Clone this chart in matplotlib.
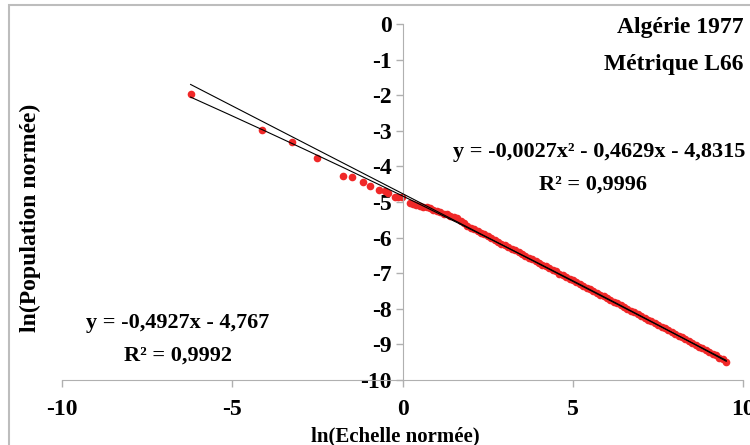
import numpy as np
import matplotlib.pyplot as plt
from matplotlib.patches import Rectangle

plt.rcParams['font.family'] = ['Liberation Serif', 'DejaVu Serif']
plt.rcParams['font.weight'] = 'bold'
plt.rcParams['axes.unicode_minus'] = False

# points
x_left = [-6.23, -4.12, -3.24, -2.51, -1.76, -1.50, -1.18, -0.96, -0.70,
          -0.53, -0.43, -0.23, -0.14, -0.03]
y_left = [-1.96, -2.97, -3.32, -3.77, -4.28, -4.31, -4.45, -4.54, -4.67,
          -4.70, -4.74, -4.85, -4.86, -4.87]

x_right = [0.2, 0.3, 0.4, 0.5, 0.6, 0.7, 0.8, 0.9, 1.0, 1.1, 1.2, 1.3, 1.4,
           1.5, 1.6, 1.7, 1.8, 1.9, 2.0, 2.1, 2.2, 2.3, 2.4, 2.5, 2.6, 2.7,
           2.8, 2.9, 3.0, 3.1, 3.2, 3.3, 3.4, 3.5, 3.6, 3.7, 3.8, 3.9, 4.0,
           4.1, 4.2, 4.3, 4.4, 4.5, 4.6, 4.7, 4.8, 4.9, 5.0, 5.1, 5.2, 5.3,
           5.4, 5.5, 5.6, 5.7, 5.8, 5.9, 6.0, 6.1, 6.2, 6.3, 6.4, 6.5, 6.6,
           6.7, 6.8, 6.9, 7.0, 7.1, 7.2, 7.3, 7.4, 7.5, 7.6, 7.7, 7.8, 7.9,
           8.0, 8.1, 8.2, 8.3, 8.4, 8.5, 8.6, 8.7, 8.8, 8.9, 9.0, 9.1, 9.2,
           9.3, 9.4, 9.5]
y_right = [-5.03, -5.06, -5.09, -5.11, -5.13, -5.15, -5.18, -5.22, -5.26,
           -5.29, -5.33, -5.35, -5.39, -5.42, -5.46, -5.52, -5.58, -5.66,
           -5.73, -5.77, -5.81, -5.86, -5.91, -5.96, -6.02, -6.06, -6.12,
           -6.18, -6.22, -6.26, -6.31, -6.36, -6.41, -6.46, -6.51, -6.56,
           -6.61, -6.66, -6.71, -6.76, -6.81, -6.86, -6.91, -6.95, -7.01,
           -7.06, -7.11, -7.16, -7.20, -7.25, -7.31, -7.36, -7.41, -7.45,
           -7.50, -7.55, -7.60, -7.65, -7.70, -7.75, -7.80, -7.85, -7.90,
           -7.95, -8.00, -8.05, -8.10, -8.15, -8.20, -8.25, -8.30, -8.35,
           -8.40, -8.45, -8.50, -8.55, -8.60, -8.65, -8.70, -8.75, -8.80,
           -8.86, -8.91, -8.96, -9.01, -9.06, -9.11, -9.16, -9.21, -9.26,
           -9.31, -9.37, -9.42, -9.48]

# trend line coefficients as printed on the chart
lin_coef = [-0.4927, -4.767]
quad_coef = [-0.0027, -0.4629, -4.8315]

x_pts = np.array(x_left + x_right)
y_pts = np.array(y_left + y_right)

fig = plt.figure(figsize=(7.5, 4.45), dpi=100)
ax = fig.add_axes([0.083, 0.146, 0.908, 0.8])

# chart area border
fig.patches.append(Rectangle((0.012, -0.05), 1.1, 1.0 - 0.011 + 0.05,
                             transform=fig.transFigure, fill=False,
                             edgecolor='#bdbdbd', linewidth=1.5))

ax.plot(x_pts, y_pts, 'o', color='#f02828', markersize=5.5,
        markeredgewidth=0, zorder=2)

xt = np.linspace(x_pts.min(), x_pts.max(), 300)
ax.plot(xt, np.polyval(lin_coef, xt), color='black', lw=0.8, zorder=3)
ax.plot(xt, np.polyval(quad_coef, xt), color='black', lw=0.8, zorder=3)

ax.set_xlim(-10, 10)
ax.set_ylim(-10, 0)
ax.set_xticks([-10, -5, 0, 5, 10])
ax.set_yticks(range(-10, 1))

for s in ['top', 'right']:
    ax.spines[s].set_visible(False)
ax.spines['left'].set_position(('data', 0))
ax.spines['left'].set_color('#b0b0b0')
ax.spines['bottom'].set_color('#b0b0b0')
ax.tick_params(colors='#b0b0b0', labelcolor='black', labelsize=17,
               length=5, width=1)
ax.tick_params(axis='x', pad=9)
ax.tick_params(axis='y', pad=3)

fig.text(0.527, 0.02, 'ln(Echelle normée)', fontsize=15, fontweight='bold',
         ha='center', va='center')
fig.text(0.04, 0.51, 'ln(Population normée)', rotation=90, fontsize=17,
         fontweight='bold', ha='center', va='center')

ax.text(1.0, 0.99, 'Algérie 1977', transform=ax.transAxes, fontsize=17,
        ha='right', va='center')
ax.text(1.0, 0.885, 'Métrique L66', transform=ax.transAxes, fontsize=17,
        ha='right', va='center')
ax.text(1.003, 0.64, 'y = -0,0027x² - 0,4629x - 4,8315',
        transform=ax.transAxes, fontsize=16, ha='right', va='center')
ax.text(0.78, 0.55, 'R² = 0,9996', transform=ax.transAxes,
        fontsize=16, ha='center', va='center')
ax.text(0.17, 0.16, 'y = -0,4927x - 4,767', transform=ax.transAxes,
        fontsize=16, ha='center', va='center')
ax.text(0.17, 0.07, 'R² = 0,9992', transform=ax.transAxes,
        fontsize=16, ha='center', va='center')

fig.savefig('out.png', dpi=100)
